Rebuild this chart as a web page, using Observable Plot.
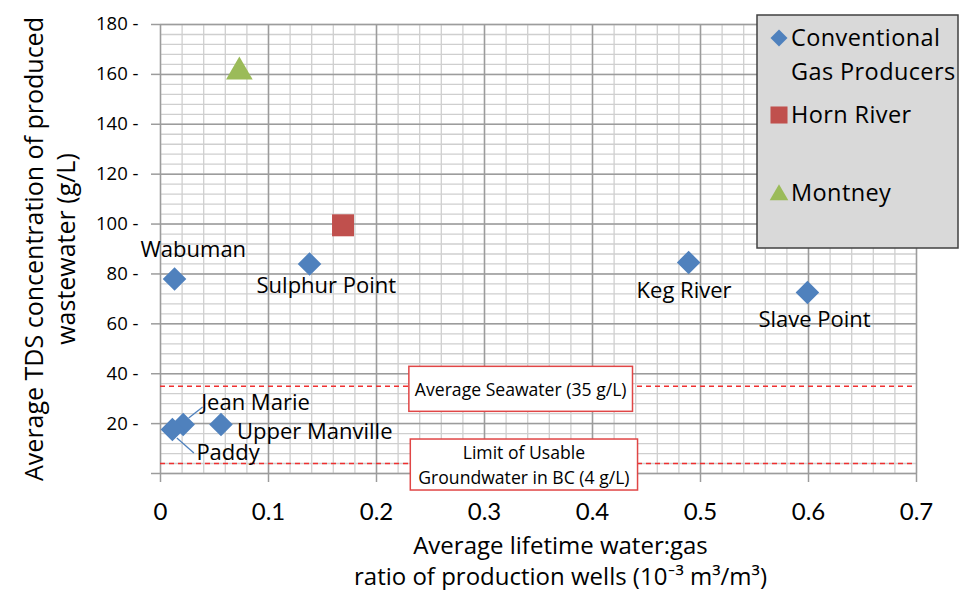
<!DOCTYPE html>
<html>
<head>
<meta charset="utf-8">
<script src="https://cdn.jsdelivr.net/npm/d3@7"></script>
<script src="https://cdn.jsdelivr.net/npm/@observablehq/plot@0.6"></script>
<style>
  body { margin: 0; background: #fff; }
  #chart { position: relative; width: 960px; height: 590px; }
</style>
</head>
<body>
<div id="chart"></div>
<script>
// ---------- data ----------
const conventionalNames = ["Wabuman", "Sulphur Point", "Keg River", "Slave Point", "Jean Marie", "Paddy", "Upper Manville"];
const conventionalX = [0.013, 0.138, 0.489, 0.599, 0.021, 0.011, 0.056];
const conventionalY = [78, 84, 84.6, 72.6, 19.6, 17.6, 19.6];

const hornRiverX = [0.169];
const hornRiverY = [99.5];

const montneyX = [0.073];
const montneyY = [161];

const seriesNames = ["Conventional\nGas Producers", "Horn River", "Montney"];
const seriesSymbols = ["diamond2", "square", "triangle"];
const seriesColors = ["#4F81BD", "#C0504D", "#9BBB59"];

const refValues = [35, 4];
const refLabels = ["Average Seawater (35 g/L)", "Limit of Usable\nGroundwater in BC (4 g/L)"];

const xTicks = [0, 0.1, 0.2, 0.3, 0.4, 0.5, 0.6, 0.7];
const yTicks = [0, 20, 40, 60, 80, 100, 120, 140, 160, 180];
const xMinorStep = 0.02;
const yMinorStep = 4;

const xTitle = "Average lifetime water:gas\nratio of production wells (10\u207B\u00B3 m\u00B3/m\u00B3)";
const yTitle = "Average TDS concentration of produced\nwastewater (g/L)";

// label placement (pixel offsets from each point, text anchored at start)
const labelOffsets = {
  "Wabuman": [-34, -29],
  "Sulphur Point": [-53, 22],
  "Keg River": [-52, 28],
  "Slave Point": [-49, 28],
  "Jean Marie": [18, -22],
  "Paddy": [24, 23],
  "Upper Manville": [16, 7]
};
const leaderLines = { "Jean Marie": [[6, -6], [20, -17]], "Paddy": [[5, 9], [22, 24]] };

// ---------- tables ----------
const conventional = conventionalNames.map((n, i) => ({name: n, x: conventionalX[i], y: conventionalY[i]}));
const hornRiver = hornRiverX.map((x, i) => ({x, y: hornRiverY[i]}));
const montney = montneyX.map((x, i) => ({x, y: montneyY[i]}));
const refs = refValues.map((v, i) => ({value: v, label: refLabels[i]}));
const xMinor = d3.range(0, 0.7 + 1e-9, xMinorStep);
const yMinor = d3.range(0, 180 + 1e-9, yMinorStep);

const FONT = "'Open Sans', Lato, sans-serif";
const NARROW = "'Liberation Sans Narrow', Lato, sans-serif";
const minorColor = "#cfcfcf";
const majorColor = "#9c9c9c";

const chart = Plot.plot({
  width: 960,
  height: 590,
  marginLeft: 160,
  marginRight: 44,
  marginTop: 24,
  marginBottom: 117,
  style: { fontFamily: FONT, background: "transparent", color: "#000", overflow: "visible" },
  x: { domain: [0, 0.7] },
  y: { domain: [0, 180] },
  marks: [
    Plot.ruleX(xMinor, { stroke: minorColor, strokeWidth: 1.3 }),
    Plot.ruleY(yMinor, { stroke: minorColor, strokeWidth: 1.3 }),
    Plot.ruleX(xTicks, { stroke: majorColor, strokeWidth: 1.5 }),
    Plot.ruleY(yTicks, { stroke: majorColor, strokeWidth: 1.5 }),
    Plot.axisX({ ticks: xTicks, tickSize: 9, tickPadding: 20, tickFormat: d => String(d), fontSize: 24, fontFamily: NARROW, stroke: majorColor, strokeWidth: 1.5, fill: "#000", label: null }),
    Plot.axisY({ ticks: yTicks, tickSize: 9, tickPadding: 13, tickFormat: d => d === 0 ? "" : d + " -", fontSize: 18.5, stroke: majorColor, strokeWidth: 1.5, fill: "#000", label: null }),
    Plot.ruleY(refValues, { stroke: "#ef3030", strokeWidth: 1.6, strokeDasharray: "5,4" }),
    Plot.text(refs.slice(0, 1), { x: () => 0.3335, y: "value", text: "label", textAnchor: "middle", dy: 4, fontSize: 17.6, fill: "#000", ariaDescription: "annotation" }),
    Plot.text(refs.slice(1), { x: () => 0.3365, y: "value", text: "label", textAnchor: "middle", dy: 0, fontSize: 17.6, lineHeight: 1.42, fill: "#000", ariaDescription: "annotation2" }),
    Plot.dot(conventional, { x: "x", y: "y", symbol: seriesSymbols[0], r: 10.6, fill: seriesColors[0], stroke: "none" }),
    Plot.dot(hornRiver, { x: "x", y: "y", symbol: seriesSymbols[1], r: 12.4, fill: seriesColors[1], stroke: "none" }),
    Plot.dot(montney, { x: "x", y: "y", symbol: seriesSymbols[2], r: 9.9, fill: seriesColors[2], stroke: "none" }),
    ...conventional.map(d => Plot.text([d], { x: "x", y: "y", text: "name", textAnchor: "start", dx: labelOffsets[d.name][0], dy: labelOffsets[d.name][1], fontSize: 22, fill: "#000" })),
    Plot.text([yTitle], { frameAnchor: "left", textAnchor: "middle", lineAnchor: "middle", rotate: -90, dx: -112, fontSize: 25, lineHeight: 1.3, fill: "#000" }),
    Plot.text([xTitle], { frameAnchor: "bottom", textAnchor: "middle", lineAnchor: "middle", dx: 22, dy: 86, fontSize: 24, lineHeight: 1.29, fill: "#000" })
  ]
});

document.getElementById("chart").appendChild(chart);

const svg = d3.select(chart);
const sx = chart.scale("x"), sy = chart.scale("y");

// annotation boxes around the reference-line labels
const boxHeights = { annotation: 45, annotation2: 51 };
const boxPads = { annotation: 6, annotation2: 8 };
for (const key of Object.keys(boxHeights)) {
  svg.selectAll(`g[aria-description="${key}"] text`).each(function () {
    const bb = this.getBBox();
    const h = boxHeights[key], p = boxPads[key];
    const cy = bb.y + bb.height / 2;
    d3.select(this.parentNode).insert("rect", () => this)
      .attr("transform", this.getAttribute("transform"))
      .attr("x", bb.x - p).attr("y", cy - h / 2)
      .attr("width", bb.width + 2 * p).attr("height", h)
      .attr("fill", "#fff").attr("stroke", "#e04646").attr("stroke-width", 1.5);
  });
}

// leader lines for crowded labels
for (const d of conventional) {
  const seg = leaderLines[d.name];
  if (!seg) continue;
  const px = sx.apply(d.x), py = sy.apply(d.y);
  svg.append("line")
    .attr("x1", px + seg[0][0]).attr("y1", py + seg[0][1])
    .attr("x2", px + seg[1][0]).attr("y2", py + seg[1][1])
    .attr("stroke", seriesColors[0]).attr("stroke-width", 1.3);
}

// legend box
const lg = svg.append("g").attr("font-family", FONT).attr("font-size", 23.5).attr("letter-spacing", 0.4).attr("text-anchor", "start");
lg.append("rect").attr("x", 757).attr("y", 15).attr("width", 201).attr("height", 233)
  .attr("fill", "#d9d9d9").attr("stroke", "#404040").attr("stroke-width", 1.5);
const legendRows = [38, 115, 193];
const legendSizes = [185, 290, 150];
const symbolMap = { diamond2: d3.symbolDiamond2, square: d3.symbolSquare, triangle: d3.symbolTriangle };
seriesNames.forEach((name, i) => {
  const y = legendRows[i];
  lg.append("path")
    .attr("d", d3.symbol(symbolMap[seriesSymbols[i]], legendSizes[i])())
    .attr("transform", `translate(779,${y + (i === 2 ? 2 : 0)})`)
    .attr("fill", seriesColors[i]);
  name.split("\n").forEach((line, j) => {
    lg.append("text").attr("x", 791).attr("y", y + j * 34).attr("dy", "0.35em")
      .attr("fill", "#000").text(line);
  });
});
</script>
</body>
</html>
